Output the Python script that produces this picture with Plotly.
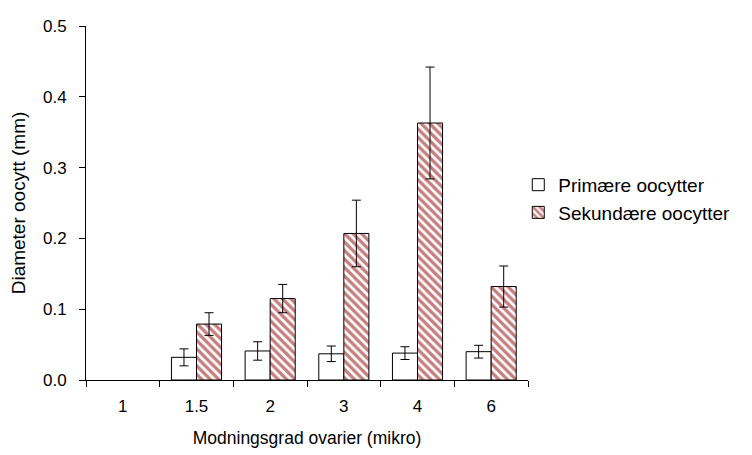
import plotly.graph_objects as go

categories = ["1", "1.5", "2", "3", "4", "6"]
primary = [None, 0.032, 0.041, 0.037, 0.038, 0.040]
primary_err = [None, 0.012, 0.013, 0.011, 0.009, 0.009]
secondary = [None, 0.079, 0.115, 0.207, 0.363, 0.132]
secondary_err = [None, 0.016, 0.020, 0.047, 0.079, 0.029]

font = dict(family="Liberation Sans, Arial, sans-serif", size=17, color="black")

fig = go.Figure()
fig.add_trace(go.Bar(
    x=categories, y=primary, name="Primære oocytter",
    marker=dict(color="white", line=dict(color="black", width=1)),
    error_y=dict(type="data", array=primary_err, visible=True, color="black", thickness=1, width=4.5),
))
fig.add_trace(go.Bar(
    x=categories, y=secondary, name="Sekundære oocytter",
    marker=dict(color="white", line=dict(color="black", width=1),
                pattern=dict(shape="\\", fgcolor="#8b0000", bgcolor="white", size=6, solidity=0.55)),
    error_y=dict(type="data", array=secondary_err, visible=True, color="black", thickness=1, width=4.5),
))

fig.update_layout(
    width=752, height=455,
    margin=dict(l=78, r=232, t=9, b=83),
    paper_bgcolor="white", plot_bgcolor="white",
    font=font,
    barmode="group", bargap=0.32, bargroupgap=0,
    showlegend=True,
    legend=dict(x=0.978, y=0.605, xanchor="left", yanchor="top", font=dict(size=19),
                bgcolor="rgba(0,0,0,0)", itemwidth=30, tracegroupgap=0),
    xaxis=dict(
        type="category", title=dict(text="Modningsgrad ovarier (mikro)", font=dict(size=17.5), standoff=16),
        showline=True, linecolor="black", linewidth=1, ticks="outside", tickson="boundaries",
        ticklen=6, tickcolor="black", showgrid=False, tickfont=dict(size=17), ticklabelstandoff=11,
    ),
    yaxis=dict(
        title=dict(text="Diameter oocytt (mm)", font=dict(size=19), standoff=12),
        range=[0, 0.5], dtick=0.1, tickformat=".1f",
        showline=True, linecolor="black", linewidth=1, ticks="outside", ticklen=6,
        tickcolor="black", showgrid=False, zeroline=False, tickfont=dict(size=17), ticklabelstandoff=9,
        ticklabeloverflow="allow",
    ),
)

fig.write_html("out.html")
